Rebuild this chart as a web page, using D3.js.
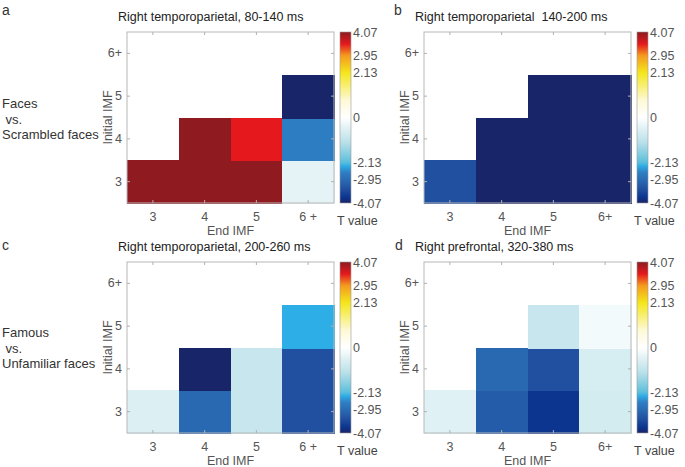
<!DOCTYPE html>
<html><head><meta charset="utf-8">
<script src="https://cdn.jsdelivr.net/npm/d3@7"></script>
<style>
body{margin:0;background:#fff;}
svg{display:block;font-family:"Liberation Sans",Arial,sans-serif;}
</style></head>
<body>
<svg id="chart" width="685" height="467"></svg>
<script>
// ---- data ----
const endIMF_ac = ["3","4","5","6 +"];
const endIMF_bd = ["3","4","5","6+"];
const initialIMF = ["3","4","5","6+"];
const cbTicks = [4.07, 2.95, 2.13, 0, -2.13, -2.95, -4.07];
const titles = ["Right temporoparietal, 80-140 ms","Right temporoparietal  140-200 ms","Right temporoparietal, 200-260 ms","Right prefrontal, 320-380 ms"];
const panelLetters = ["a","b","c","d"];
const rowLabelsTop = ["Faces"," vs.","Scrambled faces"];
const rowLabelsBottom = ["Famous"," vs.","Unfamiliar faces"];
// rows = initial IMF 3,4,5,6+ ; columns = end IMF 3,4,5,6+ ; null = empty
const valuesA = [[4.05,4.05,4.05,-0.45],[null,4.05,3.5,-2.65],[null,null,null,-4.05],[null,null,null,null]];
const valuesB = [[-3.4,-4.05,-4.05,-4.05],[null,-4.05,-4.05,-4.05],[null,null,-4.05,-4.05],[null,null,null,null]];
const valuesC = [[-0.6,-3.0,-0.95,-3.4],[null,-4.05,-0.95,-3.4],[null,null,null,-2.3],[null,null,null,null]];
const valuesD = [[-0.55,-3.2,-3.8,-0.75],[null,-3.0,-3.4,-0.7],[null,null,-0.95,-0.2],[null,null,null,null]];

// colormap
const cmapVals = [-4.07,-3.8,-3.4,-2.95,-2.6,-2.3,-2.13,-1.2,-0.5,0,0.8,2.13,2.95,3.5,4.07];
const cmapCols = ["#1a2466","#0c3590","#2150a0","#2a6cb4","#2e80c6","#2eaee6","#5cbfdc","#b8e0e8","#e2f2f5","#ffffff","#fdf9d8","#f4e61a","#f59a1e","#e5191d","#8c1a20"];
const color = d3.scaleLinear().domain(cmapVals).range(cmapCols).clamp(true);

const svg = d3.select("#chart");
const W = 207, H = 171;
const panels = [
  {x:127,y:32,vals:valuesA,xt:endIMF_ac,title:titles[0],lx:2,ly:10,tx:118},
  {x:424,y:32,vals:valuesB,xt:endIMF_bd,title:titles[1],lx:394,ly:10,tx:415},
  {x:127,y:262,vals:valuesC,xt:endIMF_ac,title:titles[2],lx:2,ly:245,tx:118},
  {x:424,y:262,vals:valuesD,xt:endIMF_bd,title:titles[3],lx:395,ly:245,tx:415}
];

// gradient for colorbar
const defs = svg.append("defs");
const grad = defs.append("linearGradient").attr("id","cbgrad").attr("x1","0").attr("y1","1").attr("x2","0").attr("y2","0");
const cbScale = d3.scaleLinear().domain([-4.07,4.07]).range([0,1]);
d3.range(0,101).forEach(i=>{
  const v = -4.07 + 8.14*i/100;
  grad.append("stop").attr("offset",cbScale(v)).attr("stop-color",color(v));
});

panels.forEach((p,pi)=>{
  const g = svg.append("g").attr("transform",`translate(${p.x},${p.y})`);
  const x = d3.scaleBand().domain(p.xt).range([0,W]);
  const y = d3.scaleBand().domain(initialIMF).range([H,0]);
  const cells = [];
  p.vals.forEach((row,ri)=>row.forEach((v,ci)=>{ if(v!==null) cells.push({r:initialIMF[ri],c:p.xt[ci],v}); }));
  g.selectAll("rect.cell").data(cells).join("rect").attr("class","cell")
    .attr("x",d=>Math.round(x(d.c))).attr("y",d=>Math.round(y(d.r)))
    .attr("width",d=>Math.round(x(d.c)+x.bandwidth())-Math.round(x(d.c))+1)
    .attr("height",d=>Math.round(y(d.r)+y.bandwidth())-Math.round(y(d.r))+1)
    .attr("shape-rendering","crispEdges")
    .attr("fill",d=>color(d.v));
  // frame
  g.append("rect").attr("width",W).attr("height",H).attr("fill","none").attr("stroke","#b8b8b8").attr("stroke-width",1);
  const styleAxis = sel=>{
    sel.select(".domain").remove();
    sel.selectAll(".tick line").attr("stroke","#b0b0b0");
    sel.selectAll(".tick text").attr("fill","#555").style("font-size","12.5px").style("font-family","Liberation Sans, Arial, sans-serif");
  };
  g.append("g").attr("transform",`translate(0,${H})`).call(d3.axisBottom(x).tickSize(-3).tickPadding(9)).call(styleAxis);
  g.append("g").call(d3.axisTop(x).tickSize(-3).tickFormat("")).call(styleAxis);
  g.append("g").call(d3.axisLeft(y).tickSize(-3).tickPadding(5)).call(styleAxis);
  g.append("g").attr("transform",`translate(${W},0)`).call(d3.axisRight(y).tickSize(-3).tickFormat("")).call(styleAxis);
  // axis labels
  g.append("text").attr("x",W/2).attr("y",H+32).attr("text-anchor","middle").attr("fill","#555").style("font-size","12.5px").text("End IMF");
  g.append("text").attr("transform",`translate(-15,${H/2}) rotate(-90)`).attr("text-anchor","middle").attr("fill","#555").style("font-size","12.5px").text("Initial IMF");
  // title
  svg.append("text").attr("x",p.tx).attr("y",p.y-11).attr("fill","#222").style("font-size","12.5px").style("white-space","pre").attr("xml:space","preserve").text(p.title);
  // panel letter
  svg.append("text").attr("x",p.lx).attr("y",p.ly+5).attr("fill","#333").style("font-size","14px").text(panelLetters[pi]);
  // colorbar
  const cb = svg.append("g").attr("transform",`translate(${p.x+W+6},${p.y})`);
  cb.append("rect").attr("width",11).attr("height",H).attr("fill","url(#cbgrad)").attr("stroke","#999").attr("stroke-width",0.6);
  const cy = d3.scaleLinear().domain([-4.07,4.07]).range([H,0]);
  cb.append("g").attr("transform","translate(11,0)").call(d3.axisRight(cy).tickValues(cbTicks).tickSize(0).tickPadding(2).tickFormat(d=>d===0?"0":d.toFixed(2)))
    .call(sel=>{sel.select(".domain").remove();sel.selectAll(".tick text").attr("fill","#555").style("font-size","12.5px").style("font-family","Liberation Sans, Arial, sans-serif");});
  cb.append("text").attr("x",-3).attr("y",H+22).attr("fill","#444").style("font-size","12.5px").text("T value");
});

// row labels
const rl = (labels,y0)=>labels.forEach((t,i)=>svg.append("text").attr("x",2).attr("y",y0+i*15.5).attr("fill","#333").style("font-size","13px").attr("xml:space","preserve").style("white-space","pre").text(t));
rl(rowLabelsTop,108);
rl(rowLabelsBottom,337);
</script>
</body></html>
